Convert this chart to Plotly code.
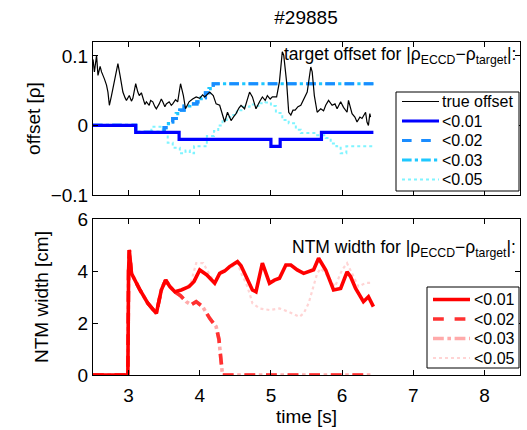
import plotly.graph_objects as go

# ---------------- data: top panel (offset [rho]) ----------------
true_t = [2.50, 2.52, 2.55, 2.57, 2.60, 2.62, 2.66, 2.69, 2.71, 2.73, 2.76, 2.80, 2.83, 2.85, 2.88,
          2.92, 2.95, 2.97, 3.01, 3.04, 3.06, 3.10, 3.13, 3.15, 3.18, 3.20, 3.23, 3.25, 3.29, 3.31,
          3.34, 3.37, 3.39, 3.43, 3.46, 3.48, 3.51, 3.53, 3.57, 3.60, 3.62, 3.66, 3.69, 3.73, 3.77,
          3.80, 3.85, 3.90, 3.95, 4.00, 4.04, 4.07, 4.14, 4.19, 4.23, 4.28, 4.32, 4.35, 4.39, 4.44,
          4.48, 4.51, 4.55, 4.58, 4.63, 4.67, 4.70, 4.74, 4.79, 4.84, 4.88, 4.92, 4.95, 4.99, 5.02,
          5.08, 5.12, 5.16, 5.18, 5.22, 5.25, 5.28, 5.31, 5.34, 5.38, 5.42, 5.47, 5.51, 5.56, 5.58,
          5.61, 5.65, 5.70, 5.74, 5.77, 5.81, 5.86, 5.90, 5.93, 5.98, 6.02, 6.07, 6.09, 6.14, 6.18,
          6.21, 6.25, 6.28, 6.33, 6.35, 6.37, 6.39, 6.40]
true_v = [0.095, 0.077, 0.101, 0.072, 0.085, 0.077, 0.067, 0.058, 0.048, 0.029, 0.043, 0.063, 0.075, 0.089, 0.072,
          0.048, 0.040, 0.036, 0.043, 0.035, 0.039, 0.060, 0.048, 0.043, 0.047, 0.039, 0.030, 0.034, 0.029, 0.036,
          0.034, 0.027, 0.024, 0.031, 0.038, 0.034, 0.027, 0.031, 0.034, 0.029, 0.031, 0.037, 0.034, 0.060, 0.043,
          0.024, 0.034, 0.038, 0.041, 0.039, 0.044, 0.041, 0.048, 0.043, 0.031, 0.029, 0.017, 0.005, 0.019, 0.007,
          0.013, 0.017, 0.025, 0.029, 0.024, 0.036, 0.048, 0.041, 0.024, 0.034, 0.041, 0.036, 0.043, 0.038, 0.041,
          0.041, 0.063, 0.106, 0.101, 0.063, 0.019, 0.015, 0.022, 0.022, 0.027, 0.029, 0.039, 0.048, 0.084, 0.077,
          0.043, 0.019, 0.024, 0.021, 0.029, 0.036, 0.029, 0.031, 0.024, 0.034, 0.026, 0.019, 0.036, 0.017, 0.012,
          0.005, 0.012, 0.010, 0.019, 0.005, 0.000, 0.017, 0.012]

off01_t = [2.50, 3.10, 3.71, 5.00, 5.13, 5.71, 6.44]
off01_v = [0.00, -0.01, -0.02, -0.03, -0.02, -0.01, -0.01]

off02_t = [2.50, 3.10, 3.50, 3.56, 3.62, 3.67, 3.72, 3.78, 3.86, 3.96, 4.02, 4.08, 4.13, 4.19, 6.44]
off02_v = [0.00, -0.01, -0.003, 0.005, 0.010, 0.017, 0.022, 0.028, 0.031, 0.034, 0.040, 0.047, 0.053, 0.060, 0.060]

off03_t = [2.50, 3.10, 3.50, 3.56, 3.62, 3.67, 3.72, 3.78, 3.86, 3.96, 4.02, 4.08, 4.13, 4.19, 6.44]
off03_v = [0.00, -0.01, -0.003, 0.005, 0.010, 0.017, 0.022, 0.028, 0.031, 0.034, 0.040, 0.047, 0.053, 0.060, 0.060]

off05_t = [2.50, 3.10, 3.32, 3.48, 3.55, 3.62, 3.72, 3.80, 3.86, 3.92, 4.10, 4.20, 4.26, 4.32, 4.38,
           4.45, 4.52, 4.60, 4.70, 4.78, 4.85, 4.92, 5.00, 5.07, 5.16, 5.25, 5.35, 5.42, 5.53, 5.65,
           5.77, 5.84, 5.92, 5.98, 6.06, 6.44]
off05_v = [0.00, -0.01, -0.002, -0.01, -0.025, -0.032, -0.040, -0.036, -0.040, -0.030, -0.015, -0.008, 0.000, 0.008, 0.012,
           0.015, 0.022, 0.027, 0.030, 0.028, 0.032, 0.033, 0.028, 0.018, 0.008, 0.003, -0.006, -0.011, -0.011, -0.014,
           -0.018, -0.026, -0.030, -0.040, -0.030, -0.030]

# ---------------- data: bottom panel (NTM width [cm]) ----------------
ntm01_t = [2.50, 2.99, 3.00, 3.01, 3.04, 3.10, 3.16, 3.27, 3.39, 3.46, 3.52, 3.58, 3.65, 3.74, 3.81,
           3.85, 3.92, 4.00, 4.10, 4.21, 4.28, 4.35, 4.42, 4.53, 4.58, 4.65, 4.74, 4.79, 4.88, 4.98,
           5.05, 5.12, 5.21, 5.28, 5.37, 5.46, 5.53, 5.60, 5.67, 5.77, 5.88, 5.98, 6.07, 6.12, 6.19,
           6.30, 6.37, 6.44]
ntm01_v = [0.00, 0.00, 4.00, 4.81, 3.91, 3.55, 3.27, 2.76, 2.37, 3.27, 3.65, 3.40, 3.20, 3.27, 3.33,
           3.40, 3.60, 4.04, 3.85, 3.53, 3.91, 4.00, 4.17, 4.36, 4.20, 3.78, 3.27, 3.20, 4.30, 3.53,
           3.65, 3.72, 4.23, 4.23, 4.04, 3.91, 3.97, 4.05, 4.49, 4.04, 3.27, 3.33, 3.97, 3.78, 3.33,
           2.82, 3.01, 2.63]

ntm02_t = [2.50, 2.99, 3.00, 3.01, 3.04, 3.10, 3.16, 3.27, 3.39, 3.46, 3.52, 3.58, 3.65, 3.73, 3.81,
           3.88, 3.95, 4.04, 4.14, 4.23, 4.27, 4.29, 4.31, 4.32, 6.42]
ntm02_v = [0.00, 0.00, 4.00, 4.81, 3.91, 3.55, 3.27, 2.76, 2.37, 3.27, 3.65, 3.40, 3.20, 3.05, 2.82,
           2.70, 2.82, 2.63, 2.18, 1.86, 1.37, 0.80, 0.20, 0.00, 0.00]

ntm03_t = [2.50, 2.99, 3.00, 3.01, 3.04, 3.10, 3.16, 3.27, 3.39, 3.46, 3.52, 3.58, 3.65, 3.73, 3.81,
           3.88, 3.95, 4.04, 4.14, 4.23, 4.27, 4.29, 4.31, 4.32, 6.42]
ntm03_v = [0.00, 0.00, 4.00, 4.81, 3.91, 3.55, 3.27, 2.76, 2.37, 3.27, 3.65, 3.40, 3.20, 3.05, 2.82,
           2.70, 2.82, 2.63, 2.18, 1.86, 1.37, 0.80, 0.20, 0.00, 0.00]

ntm05_t = [2.50, 2.99, 3.00, 3.01, 3.04, 3.10, 3.16, 3.27, 3.39, 3.46, 3.52, 3.58, 3.65, 3.74, 3.81,
           3.88, 3.95, 4.05, 4.15, 4.22, 4.28, 4.42, 4.53, 4.60, 4.65, 4.70, 4.74, 4.84, 4.98, 5.12,
           5.25, 5.40, 5.46, 5.53, 5.60, 5.65, 5.70, 5.80, 5.90, 6.00, 6.07, 6.14, 6.23, 6.33, 6.42]
ntm05_v = [0.00, 0.00, 4.00, 4.81, 3.91, 3.55, 3.27, 2.76, 2.37, 3.27, 3.65, 3.40, 3.20, 3.27, 3.33,
           3.60, 4.30, 4.30, 3.80, 3.60, 3.97, 4.10, 4.30, 3.80, 3.54, 3.14, 2.76, 2.56, 2.50, 2.56,
           2.43, 2.24, 2.37, 2.76, 3.40, 3.91, 4.10, 3.80, 3.40, 4.04, 4.30, 3.91, 3.40, 3.54, 3.54]

legend_top = ["true offset", "<0.01", "<0.02", "<0.03", "<0.05"]
legend_bot = ["<0.01", "<0.02", "<0.03", "<0.05"]
title_text = "#29885"

# ---------------- styles / layout geometry ----------------
FONT = "Liberation Sans, Arial, Helvetica, sans-serif"
W, H = 527, 430
ML, MR, MT, MB = 93, 7, 42, 55
PW, PH = W - ML - MR, H - MT - MB


def px2x(px):
    return (px - ML) / PW


def py2y(py):
    return (H - MB - py) / PH


black_style = ("black", "solid", 1.2)
blue_styles = [("#0000ff", "solid", 3.2), ("#1a8cff", "dash", 3.2), ("#1ec8ff", "dashdot", 3.2), ("#7ff4ff", "dot", 2.0)]
red_styles = [("#ff0000", "solid", 3.6), ("#ff3030", "dash", 3.6), ("#ffaaaa", "dashdot", 3.6), ("#ffd4d4", "dot", 2.2)]

fig = go.Figure()

top_sets = [(off01_t, off01_v), (off02_t, off02_v), (off03_t, off03_v), (off05_t, off05_v)]
for i in [3, 2, 1, 0]:
    tt, vv = top_sets[i]
    c, d, w = blue_styles[i]
    fig.add_trace(go.Scatter(x=tt, y=vv, mode="lines", name=legend_top[i + 1],
                             line=dict(color=c, dash=d, width=w, shape="hv"),
                             xaxis="x", yaxis="y", showlegend=False))
fig.add_trace(go.Scatter(x=true_t, y=true_v, mode="lines", name=legend_top[0],
                         line=dict(color=black_style[0], width=black_style[2]),
                         xaxis="x", yaxis="y", showlegend=False))

bot_sets = [(ntm01_t, ntm01_v), (ntm02_t, ntm02_v), (ntm03_t, ntm03_v), (ntm05_t, ntm05_v)]
for i in [3, 2, 1, 0]:
    tt, vv = bot_sets[i]
    c, d, w = red_styles[i]
    fig.add_trace(go.Scatter(x=tt, y=vv, mode="lines", name=legend_bot[i],
                             line=dict(color=c, dash=d, width=w),
                             xaxis="x2", yaxis="y2", showlegend=False))

# ---------------- MATLAB-style legend boxes ----------------
shapes, annots = [], []


def make_legend(box, rows, labels, styles, line_x, text_x):
    x0, x1, y0, y1 = box
    shapes.append(dict(type="rect", xref="paper", yref="paper", layer="above",
                       x0=px2x(x0), x1=px2x(x1), y0=py2y(y1), y1=py2y(y0),
                       fillcolor="white", line=dict(color="black", width=1)))
    for ry, lab, (c, d, w) in zip(rows, labels, styles):
        shapes.append(dict(type="line", xref="paper", yref="paper", layer="above",
                           x0=px2x(line_x[0]), x1=px2x(line_x[1]), y0=py2y(ry), y1=py2y(ry),
                           line=dict(color=c, dash=d, width=w)))
        annots.append(dict(text=lab, xref="paper", yref="paper", x=px2x(text_x), y=py2y(ry),
                           xanchor="left", yanchor="middle", showarrow=False,
                           font=dict(family=FONT, size=16, color="black")))


make_legend((396, 519, 92, 191), [101.5, 121, 140.5, 160, 179.5], legend_top,
            [black_style] + blue_styles, (402, 439), 440)
make_legend((427, 519, 287, 368), [299.5, 319, 338.5, 358], legend_bot,
            red_styles, (433, 470), 472)

annots += [
    dict(text="target offset for |\u03c1<sub>ECCD</sub>\u2212\u03c1<sub>target</sub>|:",
         xref="paper", yref="paper", x=px2x(518), y=py2y(42), xanchor="right", yanchor="top",
         showarrow=False, font=dict(family=FONT, size=17.5, color="black")),
    dict(text="NTM width for |\u03c1<sub>ECCD</sub>\u2212\u03c1<sub>target</sub>|:",
         xref="paper", yref="paper", x=px2x(518), y=py2y(235), xanchor="right", yanchor="top",
         showarrow=False, font=dict(family=FONT, size=17.5, color="black")),
]

axis_common = dict(showline=True, linecolor="black", linewidth=1, mirror="ticks",
                   ticks="inside", ticklen=5, tickcolor="black", showgrid=False, zeroline=False,
                   tickfont=dict(family=FONT, size=19, color="black"))

fig.update_layout(
    width=W, height=H,
    margin=dict(l=ML, r=MR, t=MT, b=MB, autoexpand=False),
    paper_bgcolor="white", plot_bgcolor="white",
    font=dict(family=FONT, color="black"),
    showlegend=False,
    xaxis=dict(range=[2.5, 8.5], anchor="y", domain=[0, 1], tickvals=[3, 4, 5, 6, 7, 8],
               showticklabels=False, **axis_common),
    yaxis=dict(range=[-0.1, 0.12], domain=[py2y(195), 1], anchor="x", tickvals=[-0.1, 0, 0.1],
               ticktext=["\u22120.1", "0", "0.1"],
               title=dict(text="offset [\u03c1]", font=dict(family=FONT, size=19), standoff=5),
               **axis_common),
    xaxis2=dict(range=[2.5, 8.5], anchor="y2", domain=[0, 1], tickvals=[3, 4, 5, 6, 7, 8],
                ticklabelstandoff=3,
                title=dict(text="time [s]", font=dict(family=FONT, size=19), standoff=2),
                **axis_common),
    yaxis2=dict(range=[0, 6], domain=[0, py2y(219)], anchor="x2", tickvals=[0, 2, 4, 6],
                title=dict(text="NTM width [cm]", font=dict(family=FONT, size=19), standoff=23),
                **axis_common),
    title=dict(text=title_text, x=px2x(306) * PW / W + ML / W, xanchor="center",
               y=1 - 17 / H, yanchor="middle", font=dict(family=FONT, size=19)),
    shapes=shapes,
    annotations=annots,
)

fig.write_html("out.html", post_script="document.body.style.margin='0px';",
               config={"displayModeBar": False})
